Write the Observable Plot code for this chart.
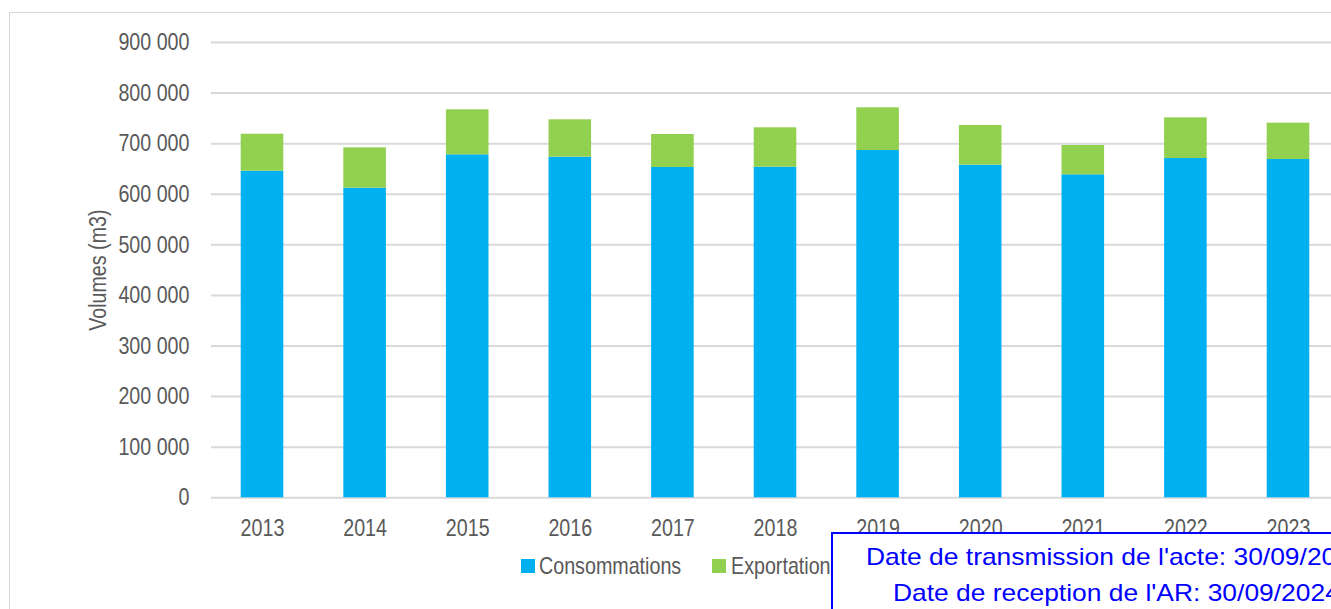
<!DOCTYPE html>
<html>
<head>
<meta charset="utf-8">
<script src="https://cdn.jsdelivr.net/npm/d3@7"></script>
<script src="https://cdn.jsdelivr.net/npm/@observablehq/plot@0.6"></script>
<style>
  html, body { margin: 0; padding: 0; width: 1331px; height: 609px; overflow: hidden; background: #fff; }
  #frame { position: absolute; left: 9px; top: 12px; width: 2000px; height: 2000px; border: 1px solid #d9d9d9; }
  #chart { position: absolute; left: 0; top: 0; }
  .narrow { font-family: "Liberation Sans Narrow", "Arial Narrow", "Liberation Sans", sans-serif; }
  .leg { position: absolute; font-size: 24px; line-height: 24px; color: #595959; white-space: nowrap; transform: scaleX(0.82); transform-origin: 0 0; }
  .sw { position: absolute; width: 14px; height: 14px; }
  #stamp { position: absolute; left: 831px; top: 532px; width: 700px; height: 200px; border: 2px solid #0000ff; background: #fff; }
  .st { position: absolute; font-family: "Liberation Sans", Arial, sans-serif; font-size: 24px; line-height: 24px; color: #0000ff; white-space: nowrap; transform: scaleX(1.1); transform-origin: 0 0; }
</style>
</head>
<body>
<div id="frame"></div>
<div id="chart"></div>
<div class="sw" style="left:521px; top:559px; background:#00B0F0"></div>
<div class="leg narrow" style="left:539px; top:554px">Consommations</div>
<div class="sw" style="left:712px; top:559px; background:#92D050"></div>
<div class="leg narrow" style="left:731px; top:554px">Exportation</div>
<div id="stamp"></div>
<div class="st" style="left:866px; top:545px">Date de transmission de l'acte: 30/09/2024</div>
<div class="st" style="left:893px; top:581px">Date de reception de l'AR: 30/09/2024</div>
<script>
const years = ["2013","2014","2015","2016","2017","2018","2019","2020","2021","2022","2023"];
const consommations = [645600, 612000, 678000, 673300, 652900, 653500, 686500, 657500, 638500, 670700, 668700];
const exportation = [73100, 79800, 89000, 73900, 65200, 77900, 84400, 78400, 57900, 80400, 71800];
const series = ["Consommations", "Exportation"];
const colors = ["#00B0F0", "#92D050"];
const yTicks = [0, 100000, 200000, 300000, 400000, 500000, 600000, 700000, 800000, 900000];
const yTitle = "Volumes (m3)";

const rows = [];
years.forEach((yr, i) => {
  rows.push({year: yr, series: series[0], value: consommations[i]});
  rows.push({year: yr, series: series[1], value: exportation[i]});
});

const fmt = d => d3.format(",")(d).replace(/,/g, " ");

const plot = Plot.plot({
  width: 1331,
  height: 545,
  marginLeft: 211,
  marginRight: 0,
  marginTop: 42,
  marginBottom: 47.7,
  style: { fontFamily: '"Liberation Sans Narrow", "Arial Narrow", "Liberation Sans", sans-serif', color: "#595959", background: "transparent", overflow: "hidden" },
  x: { type: "band", domain: years, range: [210.7, 1339.3], paddingInner: 0.585, paddingOuter: 0.2925, round: false },
  y: { domain: [0, 900000] },
  color: { domain: series, range: colors },
  marks: [
    Plot.ruleY(yTicks, { stroke: "#d9d9d9", strokeWidth: 2 }),
    Plot.barY(rows, { x: "year", y: "value", fill: "series", order: series }),
    Plot.axisY({ ticks: yTicks, tickFormat: fmt, tickSize: 0, tickPadding: 22, fontSize: 24, label: null }),
    Plot.axisX({ tickSize: 0, tickPadding: 21, fontSize: 24, label: null }),
    Plot.text([yTitle], { frameAnchor: "left", dx: -113, rotate: -90, textAnchor: "middle", lineAnchor: "middle", fontSize: 24, fill: "#595959", text: d => d })
  ]
});

// emulate the narrow typeface: condense each label horizontally around its own anchor
plot.querySelectorAll("text").forEach(t => {
  let tr = t.getAttribute("transform") || "";
  const x = +(t.getAttribute("x") || 0), y = +(t.getAttribute("y") || 0);
  if (x || y) { t.removeAttribute("x"); t.removeAttribute("y"); tr = tr + ` translate(${x},${y})`; }
  t.setAttribute("transform", (tr + " scale(0.82,1)").trim());
});
document.getElementById("chart").appendChild(plot);
</script>
</body>
</html>
